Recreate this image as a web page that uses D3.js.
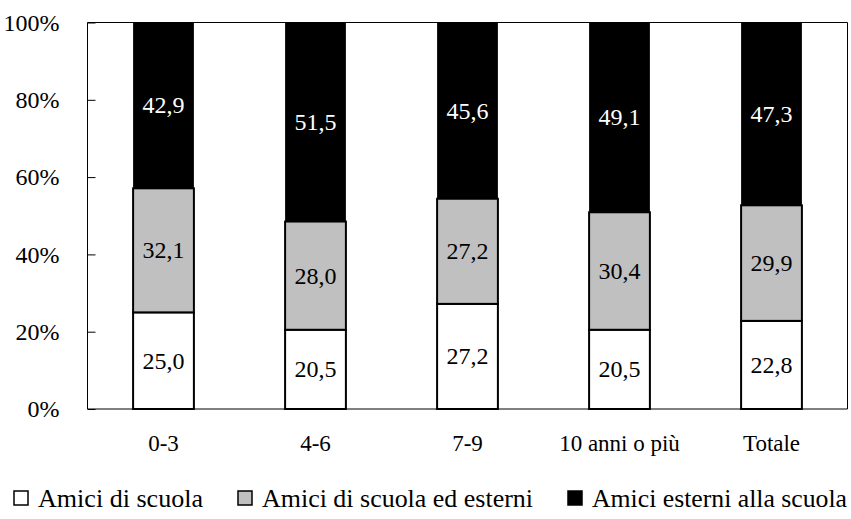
<!DOCTYPE html>
<html>
<head>
<meta charset="utf-8">
<script src="https://cdn.jsdelivr.net/npm/d3@7"></script>
</head>
<body style="margin:0;background:#fff">
<svg id="chart" width="851" height="519"></svg>
<script>
// Categories (years of attendance) and the three stacked shares, in percent
const categories = ["0-3", "4-6", "7-9", "10 anni o più", "Totale"];
const amiciScuola = [25.0, 20.5, 27.2, 20.5, 22.8];
const amiciScuolaEsterni = [32.1, 28.0, 27.2, 30.4, 29.9];
const amiciEsterni = [42.9, 51.5, 45.6, 49.1, 47.3];
const seriesNames = ["Amici di scuola", "Amici di scuola ed esterni", "Amici esterni alla scuola"];
const seriesColors = ["#ffffff", "#c0c0c0", "#000000"];
const labelColors = ["#000000", "#000000", "#ffffff"];
const yTicks = [0, 20, 40, 60, 80, 100];

// Serif text style shared by every label
const textStyle = size => `font-family: serif; font-size: ${size}px`;

const svg = d3.select("#chart");
const x0 = 87.5, x1 = 847.5;
const yTop = 22.5, yBot = 409;

const x = d3.scaleBand().domain(categories).range([x0, x1]).paddingInner(0.6).paddingOuter(0.3);
const y = d3.scaleLinear().domain([0, 100]).range([yBot, yTop]);

const rows = categories.map((c, i) => ({
  cat: c,
  s0: amiciScuola[i],
  s1: amiciScuolaEsterni[i],
  s2: amiciEsterni[i]
}));
const layers = d3.stack().keys(["s0", "s1", "s2"])(rows);

// Frame: top and right edges
svg.append("line").attr("x1", x0).attr("x2", x1).attr("y1", yTop).attr("y2", yTop)
  .attr("stroke", "#000").attr("stroke-width", 1);
svg.append("line").attr("x1", x1).attr("x2", x1).attr("y1", yTop).attr("y2", yBot)
  .attr("stroke", "#000").attr("stroke-width", 1);

// Stacked bars with value labels
layers.forEach((layer, k) => {
  const g = svg.append("g");
  g.selectAll("rect").data(layer).enter().append("rect")
    .attr("x", d => x(d.data.cat))
    .attr("width", x.bandwidth())
    .attr("y", d => y(d[1]))
    .attr("height", d => y(d[0]) - y(d[1]))
    .attr("fill", seriesColors[k])
    .attr("stroke", k === 2 ? "none" : "#000")
    .attr("stroke-width", 2);
  g.selectAll("text").data(layer).enter().append("text")
    .attr("x", d => x(d.data.cat) + x.bandwidth() / 2)
    .attr("y", d => (y(d[0]) + y(d[1])) / 2 + 8)
    .attr("text-anchor", "middle")
    .attr("style", textStyle(24))
    .attr("fill", labelColors[k])
    .text(d => d3.format(".1f")(d[1] - d[0]).replace(".", ","));
});

// Y axis with inward ticks
const yAxis = d3.axisLeft(y).tickValues(yTicks).tickSize(-8).tickPadding(28)
  .tickFormat(d => d + "%");
const ga = svg.append("g").attr("transform", `translate(${x0},0)`).call(yAxis);
ga.select(".domain").attr("stroke", "#000").attr("d", `M0,${yTop}V${yBot}`);
ga.selectAll(".tick line").attr("stroke", "#000");
ga.selectAll(".tick text").attr("fill", "#000").attr("style", textStyle(24));

// X axis baseline and category labels
const xAxis = d3.axisBottom(x).tickSize(0).tickPadding(26);
const gx = svg.append("g").attr("transform", `translate(0,${yBot})`).call(xAxis);
gx.select(".domain").attr("stroke", "#000").attr("d", `M${x0},0H${x1}`);
gx.selectAll(".tick text").attr("fill", "#000").attr("style", textStyle(23));

// Legend: swatch plus label, each label held to a fixed run length
const legendX = [14, 238, 568];
const legendLen = [165, 271, 255];
const lg = svg.append("g");
seriesNames.forEach((name, k) => {
  lg.append("rect").attr("x", legendX[k]).attr("y", 491).attr("width", 14).attr("height", 14)
    .attr("fill", seriesColors[k]).attr("stroke", "#000").attr("stroke-width", 1.5);
  lg.append("text").attr("x", legendX[k] + 24).attr("y", 507)
    .attr("style", textStyle(25))
    .attr("textLength", legendLen[k])
    .attr("lengthAdjust", "spacingAndGlyphs")
    .attr("fill", "#000").text(name);
});
</script>
</body>
</html>
